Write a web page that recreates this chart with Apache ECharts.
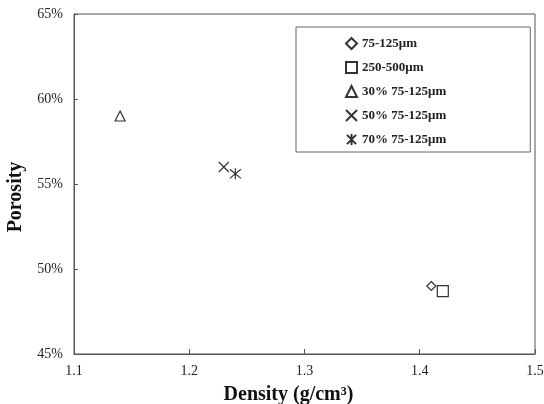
<!DOCTYPE html>
<html>
<head>
<meta charset="utf-8">
<script src="https://cdn.jsdelivr.net/npm/echarts@6/dist/echarts.min.js"></script>
<style>html,body{margin:0;padding:0;background:#fff;}#c{width:544px;height:404px;}</style>
</head>
<body>
<div id="c"></div>
<script>
var seriesNames = ['75-125\u03bcm', '250-500\u03bcm', '30% 75-125\u03bcm', '50% 75-125\u03bcm', '70% 75-125\u03bcm'];
var densities = [1.41, 1.42, 1.14, 1.23, 1.24];
var porosities = [49.0, 48.7, 59.0, 56.0, 55.6];
var xTicks = [1.1, 1.2, 1.3, 1.4, 1.5];
var yTicks = [45, 50, 55, 60, 65];

var symbols = [
  'path://M5,0L10,5L5,10L0,5Z',
  'path://M0,0L10,0L10,10L0,10Z',
  'path://M5,0L10,10L0,10Z',
  'path://M0,0L10,10M10,0L0,10',
  'path://M0,0L10,10M10,0L0,10M5,-1L5,11'
];
var sizes = [9, 11, 10, 10, 11];
var font = '"Liberation Serif", "Times New Roman", serif';

var series = seriesNames.map(function (n, i) {
  return {
    name: n,
    type: 'scatter',
    symbol: symbols[i],
    symbolSize: sizes[i],
    data: [[densities[i], porosities[i]]],
    itemStyle: { color: 'rgba(0,0,0,0)', borderColor: '#333', borderWidth: 1.2, opacity: 1 }
  };
});

var chart = echarts.init(document.getElementById('c'));
chart.setOption({
  animation: false,
  backgroundColor: '#fff',
  grid: { left: 74, right: 9, top: 14, bottom: 50, outerBoundsMode: 'none', containLabel: false, show: true, borderColor: '#555', borderWidth: 1, backgroundColor: 'transparent' },
  xAxis: {
    type: 'value', min: xTicks[0], max: xTicks[xTicks.length - 1], interval: 0.1,
    name: 'Density (g/cm\u00b3)', nameLocation: 'middle', nameGap: 31,
    nameTextStyle: { fontFamily: font, fontSize: 20, fontWeight: 'bold', color: '#111', padding: [0, 32, 0, 0] },
    axisLine: { lineStyle: { color: '#555' } },
    axisTick: { inside: true, length: 5, lineStyle: { color: '#555' } },
    axisLabel: { fontFamily: font, fontSize: 14, color: '#222', margin: 10, formatter: function (v) { return v.toFixed(1); } },
    splitLine: { show: false }
  },
  yAxis: {
    type: 'value', min: yTicks[0], max: yTicks[yTicks.length - 1], interval: 5,
    name: 'Porosity', nameLocation: 'middle', nameGap: 48,
    nameTextStyle: { fontFamily: font, fontSize: 20, fontWeight: 'bold', color: '#111', padding: [0, 26, 0, 0] },
    axisLine: { lineStyle: { color: '#555' } },
    axisTick: { inside: true, length: 4, lineStyle: { color: '#555' } },
    axisLabel: { fontFamily: font, fontSize: 14, color: '#222', margin: 11, formatter: '{value}%' },
    splitLine: { show: false }
  },
  legend: {
    orient: 'vertical', left: 296, top: 27,
    padding: [10, 84, 6, 49],
    borderColor: '#666', borderWidth: 1, backgroundColor: '#fff',
    itemWidth: 11, itemHeight: 11, itemGap: 11,
    textStyle: { fontFamily: font, fontSize: 13, fontWeight: 'bold', color: '#222' },
    data: seriesNames
  },
  series: series
});
</script>
</body>
</html>
